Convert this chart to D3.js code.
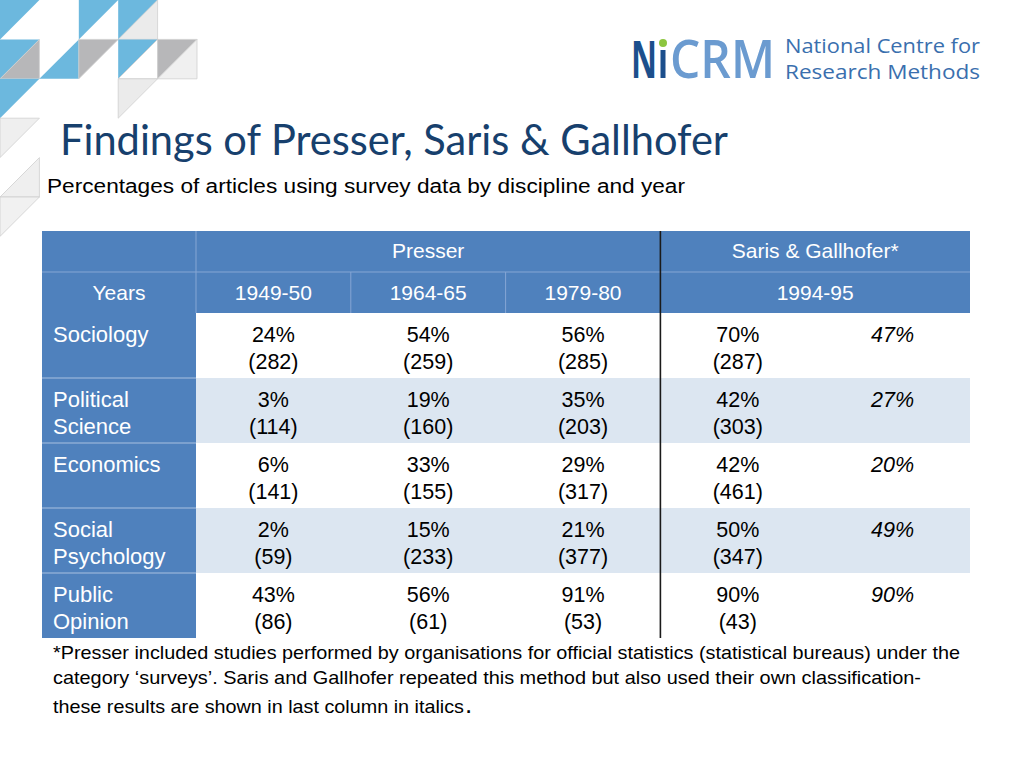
<!DOCTYPE html>
<html><head><meta charset="utf-8">
<script src="https://cdn.jsdelivr.net/npm/d3@7"></script>
<style>html,body{margin:0;padding:0;background:#fff;}svg{display:block;}</style>
</head><body>
<svg id="c" width="1024" height="768"></svg>
<script>
const disciplines = ["Sociology", "Political Science", "Economics", "Social Psychology", "Public Opinion"];
const disciplineLines = [["Sociology"], ["Political", "Science"], ["Economics"], ["Social", "Psychology"], ["Public", "Opinion"]];
const years = ["1949-50", "1964-65", "1979-80", "1994-95"];
const pct1949 = [24, 3, 6, 2, 43];
const n1949 = [282, 114, 141, 59, 86];
const pct1964 = [54, 19, 33, 15, 56];
const n1964 = [259, 160, 155, 233, 61];
const pct1979 = [56, 35, 29, 21, 91];
const n1979 = [285, 203, 317, 377, 53];
const pct1994 = [70, 42, 42, 50, 90];
const n1994 = [287, 303, 461, 347, 43];
const pctOwn = [47, 27, 20, 49, 90];
const groups = ["Presser", "Saris & Gallhofer*"];

const svg = d3.select("#c");
const FONT = "'Liberation Sans', Arial, sans-serif";

// ---- decoration triangles (top-left) ----
const s = 39.4;
const BLUE = "#6cb8de", GRAY = "#b7b7b9", LG = "#ebebeb";
const tris = [
  [0,0,"tl",BLUE],[2,0,"tl",BLUE],[3,0,"tl",BLUE],[3,0,"br",LG],
  [0,1,"tl",BLUE],[0,1,"br",GRAY],[1,1,"br",BLUE],[2,1,"tl",GRAY],[3,1,"tl",BLUE],[3,1,"br","#fff"],
  [4,1,"tl",GRAY],[4,1,"br","#f0f0f0"],
  [0,2,"tl",BLUE],[3,2,"tl",LG],
  [0,3,"tl","#efefef"],[0,4,"br","#efefef"],[0,5,"tl","#f1f1f1"]
];
const deco = svg.append("g");
tris.forEach(([c,r,k,f]) => {
  const x = c*s, y = r*s;
  const pts = k === "tl" ? [[x,y],[x+s,y],[x,y+s]] : [[x+s,y],[x+s,y+s],[x,y+s]];
  deco.append("path").attr("d", d3.line()(pts) + "Z")
    .attr("fill", f).attr("stroke", f === BLUE ? "none" : "#cfcfcf").attr("stroke-width", 0.8);
});

// ---- logo ----
const logo = svg.append("g");
logo.append("text").attr("x", 631).attr("y", 78).text("N")
  .attr("font-family", "'Open Sans', sans-serif").attr("font-weight", 700).attr("font-size", 52).attr("fill", "#1c4f8c")
  .attr("textLength", 26).attr("lengthAdjust", "spacingAndGlyphs");
logo.append("circle").attr("cx", 663).attr("cy", 43).attr("r", 4).attr("fill", "#8dc63f");
logo.append("rect").attr("x", 660.5).attr("y", 50).attr("width", 5).attr("height", 28).attr("fill", "#1c4f8c");
logo.append("text").attr("x", 670).attr("y", 78).text("CRM")
  .attr("font-family", "'Open Sans', sans-serif").attr("font-weight", 600).attr("font-size", 52).attr("fill", "#6b9bd0")
  .attr("textLength", 105).attr("lengthAdjust", "spacingAndGlyphs");
logo.append("text").attr("x", 785).attr("y", 53).text("National Centre for")
  .attr("font-family", "'Open Sans', sans-serif").attr("font-size", 20).attr("fill", "#3a6fae")
  .attr("textLength", 195).attr("lengthAdjust", "spacingAndGlyphs");
logo.append("text").attr("x", 785).attr("y", 79).text("Research Methods")
  .attr("font-family", "'Open Sans', sans-serif").attr("font-size", 20).attr("fill", "#3a6fae")
  .attr("textLength", 195).attr("lengthAdjust", "spacingAndGlyphs");

// ---- title / subtitle ----
svg.append("text").attr("x", 60).attr("y", 155).text("Findings of Presser, Saris & Gallhofer")
  .attr("font-family", "Lato, 'Open Sans', sans-serif").attr("font-size", 42).attr("fill", "#17406d")
  .attr("textLength", 668).attr("lengthAdjust", "spacingAndGlyphs");
svg.append("text").attr("x", 47).attr("y", 193).text("Percentages of articles using survey data by discipline and year")
  .attr("font-family", FONT).attr("font-size", 20).attr("fill", "#000")
  .attr("textLength", 638).attr("lengthAdjust", "spacingAndGlyphs");

// ---- table ----
const HEAD = "#4f81bd", LIGHT = "#dce6f1";
const left = 42, right = 970, labelRight = 196;
const top0 = 231, top1 = 272, top2 = 313, bottom = 638;
const colKeys = years.concat(["own"]);
const x = d3.scaleBand().domain(colKeys).range([labelRight, right]);
const y = d3.scaleBand().domain(disciplines).range([top2, bottom]);

const t = svg.append("g");
t.append("rect").attr("x", left).attr("y", top0).attr("width", right-left).attr("height", top2-top0).attr("fill", HEAD);
t.selectAll("rect.row").data(disciplines).join("rect").attr("class","row")
  .attr("x", labelRight).attr("y", d => y(d)).attr("width", right-labelRight).attr("height", y.bandwidth())
  .attr("fill", (d,i) => i % 2 ? LIGHT : "#fff");
t.selectAll("rect.lab").data(disciplines).join("rect").attr("class","lab")
  .attr("x", left).attr("y", d => y(d)).attr("width", labelRight-left).attr("height", y.bandwidth())
  .attr("fill", HEAD);
const thin = "#86a6d4";
t.append("line").attr("x1", left).attr("x2", right).attr("y1", top1).attr("y2", top1).attr("stroke", thin).attr("stroke-width", 1);
t.append("line").attr("x1", labelRight).attr("x2", labelRight).attr("y1", top0).attr("y2", top2).attr("stroke", thin).attr("stroke-width", 1);
[years[1], years[2]].forEach(k => t.append("line").attr("x1", x(k)).attr("x2", x(k)).attr("y1", top1).attr("y2", top2).attr("stroke", thin).attr("stroke-width", 1));
disciplines.slice(1).forEach(d => t.append("line").attr("x1", left).attr("x2", labelRight).attr("y1", y(d)).attr("y2", y(d)).attr("stroke", "#a9c0e0").attr("stroke-width", 1));
t.append("line").attr("x1", x(years[3])).attr("x2", x(years[3])).attr("y1", top0).attr("y2", bottom).attr("stroke", "#1a1a1a").attr("stroke-width", 1.6);

const hs = 21;
t.append("text").attr("x", (labelRight + x(years[3]))/2).attr("y", 258).text(groups[0])
  .attr("text-anchor","middle").attr("font-family", FONT).attr("font-size", hs).attr("fill", "#fff");
t.append("text").attr("x", (x(years[3]) + right)/2).attr("y", 258).text(groups[1])
  .attr("text-anchor","middle").attr("font-family", FONT).attr("font-size", hs).attr("fill", "#fff");
t.append("text").attr("x", (left+labelRight)/2).attr("y", 300).text("Years")
  .attr("text-anchor","middle").attr("font-family", FONT).attr("font-size", hs).attr("fill", "#fff");
years.slice(0,3).forEach(k => t.append("text").attr("x", x(k) + x.bandwidth()/2).attr("y", 300).text(k)
  .attr("text-anchor","middle").attr("font-family", FONT).attr("font-size", hs).attr("fill", "#fff"));
t.append("text").attr("x", (x(years[3]) + right)/2).attr("y", 300).text(years[3])
  .attr("text-anchor","middle").attr("font-family", FONT).attr("font-size", hs).attr("fill", "#fff");

const fs = 22;
disciplineLines.forEach((lines, i) => {
  lines.forEach((ln, j) => t.append("text").attr("x", 53).attr("y", y(disciplines[i]) + 29 + j*27).text(ln)
    .attr("font-family", FONT).attr("font-size", fs).attr("fill", "#fff"));
});
const pcts = [pct1949, pct1964, pct1979, pct1994];
const ns = [n1949, n1964, n1979, n1994];
years.forEach((k, c) => {
  disciplines.forEach((d, i) => {
    const cx = x(k) + x.bandwidth()/2;
    t.append("text").attr("x", cx).attr("y", y(d) + 29).text(pcts[c][i] + "%")
      .attr("text-anchor","middle").attr("font-family", FONT).attr("font-size", 21.5).attr("fill", "#000");
    t.append("text").attr("x", cx).attr("y", y(d) + 56).text("(" + ns[c][i] + ")")
      .attr("text-anchor","middle").attr("font-family", FONT).attr("font-size", 21.5).attr("fill", "#000");
  });
});
disciplines.forEach((d, i) => {
  t.append("text").attr("x", x("own") + x.bandwidth()/2).attr("y", y(d) + 29).text(pctOwn[i] + "%")
    .attr("text-anchor","middle").attr("font-family", FONT).attr("font-size", 21.5).attr("font-style","italic").attr("fill", "#000");
});

const notes = [
  ["*Presser included studies performed by organisations for official statistics (statistical bureaus) under the", 659, 907],
  ["category \u2018surveys\u2019. Saris and Gallhofer repeated this method but also used their own classification-", 684, 868],
  ["these results are shown in last column in italics", 713, 411]
];
notes.forEach(([txt, yy, w]) => svg.append("text").attr("x", 53).attr("y", yy).text(txt)
  .attr("font-family", FONT).attr("font-size", 18.5).attr("fill", "#000")
  .attr("textLength", w).attr("lengthAdjust", "spacingAndGlyphs"));
svg.append("text").attr("x", 465).attr("y", 713).text(".").attr("font-family", FONT).attr("font-size", 26).attr("fill", "#000");
</script>
</body></html>
